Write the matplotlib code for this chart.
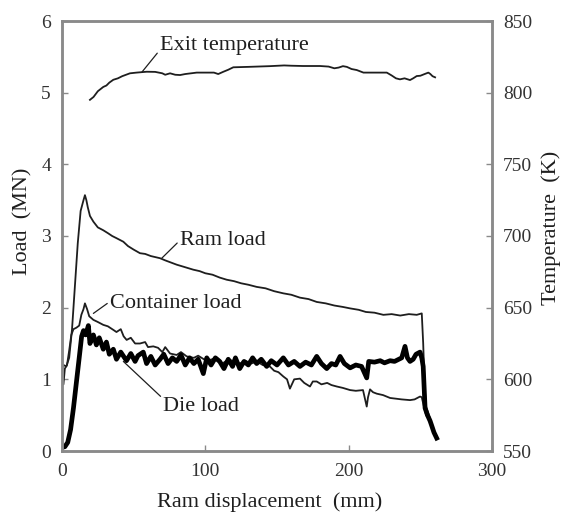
import matplotlib
matplotlib.use('Agg')
import matplotlib.pyplot as plt

plt.rcParams['font.family'] = ['Liberation Serif', 'DejaVu Serif']

# ram displacement (mm) / load (MN)
ram_x = [0, 1, 3, 5, 7, 9, 11, 13, 15, 16, 17, 18, 19.5, 21.9, 25, 28.8, 32, 35, 38, 42.8, 46,
         50, 54.4, 58, 62, 68.4, 72, 76, 80, 85, 91.6, 96, 100, 105, 110, 114.9, 120, 125, 130,
         135.8, 142, 148, 154.4, 160, 166, 172, 177.7, 184, 190, 196, 201, 207, 212, 218, 224.2,
         230, 236, 242, 247.5, 251, 252, 253, 254, 256.8, 259, 261.4]
ram_y = [1.15, 1.2, 1.18, 1.3, 1.7, 2.3, 2.9, 3.35, 3.5, 3.57, 3.5, 3.4, 3.28, 3.2, 3.12, 3.08,
         3.04, 3.0, 2.97, 2.92, 2.86, 2.81, 2.76, 2.75, 2.72, 2.69, 2.66, 2.63, 2.6, 2.57, 2.53,
         2.51, 2.48, 2.46, 2.42, 2.39, 2.37, 2.34, 2.32, 2.29, 2.27, 2.23, 2.2, 2.18, 2.14, 2.12,
         2.08, 2.06, 2.03, 2.01, 1.99, 1.97, 1.94, 1.93, 1.9, 1.91, 1.89, 1.91, 1.9, 1.92, 1.5,
         0.9, 0.62, 0.45, 0.3, 0.2]

cont_x = [0, 1, 2, 3.5, 5, 6.5, 8, 10, 12, 13.5, 15, 16, 17.5, 19, 21.9, 25, 28.8, 32, 35.8, 38,
          41, 43, 45.1, 48, 51, 54.4, 58, 60, 63.7, 67, 70, 72, 75.4, 80, 83, 87, 92, 95, 99, 103,
          108, 112, 116, 120, 124, 128, 132, 136, 140, 145, 148, 151, 154.4, 157, 159, 162, 166,
          169, 173, 175, 177.7, 181, 185, 188, 191.7, 196, 201, 205, 210, 212.6, 213.5, 214.9,
          217, 219.6, 224, 228.9, 233, 237, 242.8, 246, 249.8, 251, 252.5, 254, 256.8, 259, 261.4]
cont_y = [0.95, 0.93, 1.15, 1.2, 1.4, 1.62, 1.7, 1.72, 1.75, 1.9, 1.98, 2.06, 1.98, 1.88, 1.83,
          1.8, 1.76, 1.74, 1.69, 1.66, 1.7, 1.6, 1.55, 1.58, 1.5, 1.5, 1.52, 1.45, 1.46, 1.44,
          1.38, 1.45, 1.36, 1.34, 1.38, 1.32, 1.3, 1.33, 1.28, 1.27, 1.3, 1.22, 1.28, 1.25, 1.22,
          1.26, 1.22, 1.25, 1.2, 1.18, 1.12, 1.1, 1.04, 1.0, 0.87, 1.0, 1.01, 0.95, 0.9, 0.97,
          0.97, 0.93, 0.95, 0.92, 0.9, 0.88, 0.85, 0.84, 0.85, 0.62, 0.75, 0.86, 0.82, 0.8, 0.78,
          0.74, 0.73, 0.72, 0.71, 0.72, 0.76, 0.75, 0.62, 0.5, 0.42, 0.3, 0.2]

die_x = [0, 2, 4, 6, 8, 10, 12, 13.7, 15, 16.5, 18.4, 19.5, 21.9, 24, 26, 28.8, 31, 33, 35.8, 38,
         41, 45, 48, 51, 53, 56.7, 59, 62, 65, 68.4, 71, 74, 77, 80, 83, 86, 89, 92, 95, 98.6,
         101, 104, 107, 110, 113, 116, 119, 121, 124, 127, 130, 133, 135.8, 139, 142.8, 146, 150,
         154.4, 158, 162, 166, 170, 174, 177.7, 181, 184.7, 188, 191, 194, 197, 201, 205, 209,
         212.6, 214, 218, 222, 225, 228.9, 232, 235, 237, 239.3, 241, 242.8, 245, 247, 249.8,
         251, 252, 253.3, 255, 256.8, 258, 259.5, 261.4]
die_y = [0.05, 0.06, 0.12, 0.3, 0.6, 0.95, 1.3, 1.6, 1.68, 1.62, 1.75, 1.5, 1.62, 1.48, 1.58,
         1.42, 1.52, 1.35, 1.42, 1.28, 1.38, 1.26, 1.36, 1.25, 1.33, 1.38, 1.22, 1.32, 1.2, 1.28,
         1.35, 1.22, 1.3, 1.25, 1.34, 1.2, 1.3, 1.22, 1.28, 1.08, 1.3, 1.2, 1.3, 1.25, 1.15, 1.28,
         1.18, 1.3, 1.15, 1.25, 1.2, 1.3, 1.22, 1.28, 1.18, 1.26, 1.2, 1.3, 1.2, 1.25, 1.18, 1.24,
         1.2, 1.32, 1.22, 1.15, 1.22, 1.2, 1.32, 1.22, 1.16, 1.2, 1.18, 1.02, 1.25, 1.24, 1.26,
         1.23, 1.26, 1.25, 1.28, 1.3, 1.46, 1.3, 1.25, 1.28, 1.35, 1.38, 1.3, 1.18, 0.6, 0.5,
         0.42, 0.35, 0.26, 0.18]

# exit temperature (K)
temp_x = [19.5, 22, 25, 28.8, 31, 33, 35.8, 39, 42, 47.4, 52, 59.1, 65, 70, 72, 75.4, 79, 82.4,
          86, 90, 94, 100, 106, 109, 112.6, 116, 119.5, 130, 145, 155, 160, 168.2, 180, 186, 190,
          193, 196, 198.7, 202, 205.6, 210.3, 220, 226.6, 230, 233, 235.8, 239, 242.8, 245,
          247.5, 250, 253, 255.6, 257, 258.5, 260.3]
temp_y = [795, 797, 801, 804, 805, 807, 809, 810, 811.5, 813.5, 814, 814.6, 814.5, 813.5, 812.5,
          813.5, 812.5, 812.3, 813, 813.5, 814, 814, 814, 813, 814.6, 816, 817.7, 818, 818.5, 819,
          818.8, 818.6, 818.6, 818.2, 817, 817.5, 818.5, 818, 816.5, 815.8, 814, 814, 814, 812,
          810, 809.3, 810, 808.8, 810, 811.6, 811.8, 813, 814, 813, 811.5, 810.7]

ink = '#1e1e1e'
frame = '#8a8a8a'

fig = plt.figure(figsize=(5.61, 5.12), dpi=100)
ax1 = fig.add_axes([62/561, 61/512, 430/561, 430/512])
ax2 = ax1.twinx()

ax1.plot(ram_x, ram_y, color=ink, lw=1.3)
ax1.plot(cont_x, cont_y, color=ink, lw=1.3)
ax1.plot(die_x, die_y, color='black', lw=3.4)
ax2.plot(temp_x, temp_y, color=ink, lw=1.3)

ax1.set_xlim(0, 300)
ax1.set_ylim(0, 6)
ax2.set_ylim(550, 850)
ax1.set_xticks([0, 100, 200, 300])
ax1.set_yticks(range(7))
ax2.set_yticks(range(550, 851, 50))

for a in (ax1, ax2):
    for s in a.spines.values():
        s.set_color(frame)
        s.set_linewidth(1.8)
ax1.tick_params(axis='both', direction='in', length=4, width=1, color=frame,
                labelsize=14, labelcolor='#333333')
ax1.tick_params(axis='x', pad=9)
ax1.tick_params(axis='y', pad=8)
ax2.tick_params(axis='y', direction='in', length=4, width=1, color=frame,
                labelsize=14, labelcolor='#333333', pad=8)

ax1.text(-0.09, 0.533, 'Load  (MN)', transform=ax1.transAxes, rotation=90,
         ha='center', va='center', fontsize=16, color=ink)
ax1.text(1.137, 0.519, 'Temperature  (K)', transform=ax1.transAxes, rotation=90,
         ha='center', va='center', fontsize=16, color=ink)
ax1.text(0.484, -0.12, 'Ram displacement  (mm)', transform=ax1.transAxes,
         ha='center', va='center', fontsize=16, color=ink)

lead = dict(arrowstyle='-', color=ink, lw=0.9, shrinkA=0, shrinkB=0)
ax2.annotate('Exit temperature', xy=(55.8, 814.4), xytext=(68.4, 832.6), ha='left', va='center',
             fontsize=16, color=ink, arrowprops=dict(lead, relpos=(0, 0.3)))
ax1.annotate('Ram load', xy=(69.6, 2.69), xytext=(82.3, 2.94), ha='left', va='center',
             fontsize=16, color=ink, arrowprops=dict(lead, relpos=(0, 0.5)))
ax1.annotate('Container load', xy=(21.9, 1.92), xytext=(33.5, 2.06), ha='left', va='center',
             fontsize=16, color=ink, arrowprops=dict(lead, relpos=(0, 0.6)))
ax1.annotate('Die load', xy=(42.8, 1.25), xytext=(70.7, 0.62), ha='left', va='center',
             fontsize=16, color=ink, arrowprops=dict(lead, relpos=(0, 0.9)))

fig.savefig('out.png', dpi=100)
